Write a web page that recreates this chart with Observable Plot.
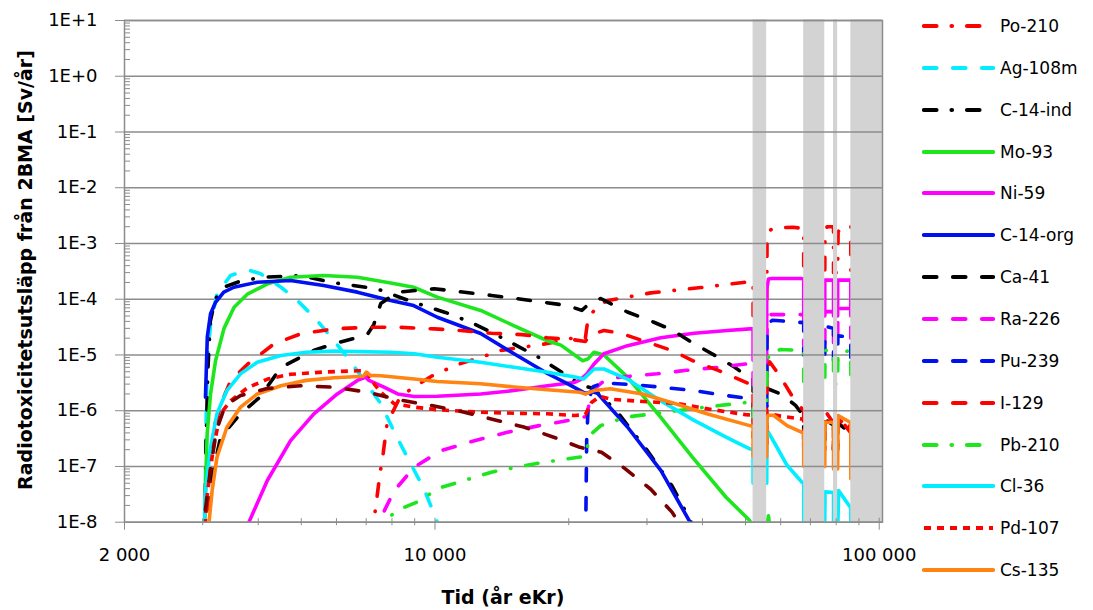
<!DOCTYPE html>
<html><head><meta charset="utf-8">
<script src="https://cdn.jsdelivr.net/npm/d3@7"></script>
<script src="https://cdn.jsdelivr.net/npm/@observablehq/plot@0.6"></script>
<style>
body{margin:0;background:#fff;font-family:"DejaVu Sans",sans-serif;}
#wrap{position:relative;width:1093px;height:610px;overflow:hidden;background:#fff;}
#chart{position:absolute;left:0;top:0;}
.ytitle{position:absolute;left:25px;top:270px;transform:translate(-50%,-50%) rotate(-90deg);white-space:nowrap;font-weight:bold;font-size:19px;color:#000;}
.xtitle{position:absolute;left:503px;top:597px;transform:translate(-50%,-50%);font-weight:bold;font-size:19px;white-space:nowrap;color:#000;}
.leg{position:absolute;left:922px;height:22px;display:flex;align-items:center;font-size:17px;color:#000;white-space:nowrap;}
.leg svg{margin-right:5px;}
</style></head><body>
<div id="wrap"><div id="chart"></div>
<div class="ytitle">Radiotoxicitetsutsläpp från 2BMA [Sv/år]</div>
<div class="xtitle">Tid (år eKr)</div>
</div>
<script>
// ---- data (x: år eKr, y: Sv/år) ----
const po210 = [[7250,5e-9],[7280,1e-8],[7520,7.5e-8],[7650,1.8e-7],[7800,5.9e-7],[8340,1.75e-6],[8950,2.64e-6],[9960,4.45e-6],[11410,7.0e-6],[12670,9.0e-6],[13990,1.2e-5],[15700,1.37e-5],[17900,1.6e-5],[20150,1.97e-5],[21800,2.0e-5],[22100,4.5e-5],[23200,7.5e-5],[24500,9.5e-5],[27100,1.09e-4],[30600,1.3e-4],[39700,1.62e-4],[49400,2.0e-4],[52000,2.1e-4],[52000,5e-5],[55800,5e-5],[55900,1.0e-3],[56600,1.7e-3],[58000,1.9e-3],[64000,1.95e-3],[67600,1.85e-3],[67600,3e-4],[75400,3e-4],[75500,1.5e-3],[76300,2.0e-3],[78900,2.0e-3],[78900,3e-4],[80600,3e-4],[80800,1.6e-3],[82000,2.0e-3],[86300,2.0e-3],[86300,3e-4]];
const ag108m = [[3035,5e-9],[3050,4e-7],[3070,6.9e-6],[3124,3.6e-5],[3230,1.25e-4],[3465,2.66e-4],[3790,3.37e-4],[4050,2.86e-4],[4500,1.64e-4],[4900,9.5e-5],[5430,4.15e-5],[5920,1.8e-5],[6350,9.1e-6],[7545,1.35e-6],[8070,4.4e-7],[8660,1.46e-7],[9440,4e-8],[10090,1.07e-8],[10400,5e-9]];
const c14ind = [[3030,5e-9],[3050,2e-7],[3080,5e-6],[3120,4e-5],[3200,1.0e-4],[3350,1.65e-4],[3700,2.2e-4],[4200,2.5e-4],[5000,2.66e-4],[5850,2.0e-4],[7400,1.54e-4],[8950,8.8e-5],[10550,5.8e-5],[12000,3.9e-5],[13400,2.56e-5],[15030,1.58e-5],[17100,9.1e-6],[18800,5.6e-6],[21300,2.9e-6],[22700,2.5e-6],[25600,1.0e-6],[30100,1.9e-7],[34200,4.4e-8],[38000,9e-9],[40000,4e-9]];
const mo93 = [[3030,5e-9],[3044,4.9e-8],[3070,3.8e-7],[3124,2.0e-6],[3206,7.9e-6],[3350,3.0e-5],[3530,7.2e-5],[3790,1.25e-4],[4200,1.89e-4],[4730,2.48e-4],[5610,2.66e-4],[6690,2.48e-4],[7950,1.95e-4],[8950,1.64e-4],[10120,1.09e-4],[12670,6.3e-5],[15030,3.37e-5],[17910,1.8e-5],[19200,1.5e-5],[21500,7.9e-6],[22100,8.5e-6],[22800,1.12e-5],[24000,1.0e-5],[27120,4.0e-6],[32230,7.6e-7],[38000,1.46e-7],[45200,2.8e-8],[51100,1.07e-8],[52000,8e-9],[55800,8e-9],[56300,1.3e-8],[57200,5e-9]];
const ni59 = [[3780,5e-9],[3811,1e-8],[4193,5.6e-8],[4730,2.9e-7],[5338,8.8e-7],[6026,2.0e-6],[6690,3.5e-6],[6980,4.0e-6],[7100,3.5e-6],[7674,2.64e-6],[8240,2.0e-6],[8980,1.8e-6],[10120,1.82e-6],[12670,2.0e-6],[15060,2.3e-6],[17910,2.8e-6],[20560,3.2e-6],[21250,3.6e-6],[21980,4.6e-6],[22800,6.9e-6],[24000,1.05e-5],[27120,1.47e-5],[32230,2.03e-5],[38300,2.45e-5],[45520,2.74e-5],[51100,2.94e-5],[52000,2.95e-5],[52000,8e-6],[55800,8e-6],[55800,1.5e-4],[56300,2.3e-4],[57200,2.35e-4],[66500,2.35e-4],[67600,2.3e-4],[67600,5e-5],[75400,5e-5],[75400,2.2e-4],[78900,2.2e-4],[78900,5e-5],[80600,5e-5],[80600,2.2e-4],[86300,2.2e-4],[86300,5e-5]];
const c14org = [[3043,1.75e-6],[3072,2.1e-5],[3124,5.5e-5],[3206,8.8e-5],[3346,1.34e-4],[3526,1.64e-4],[3980,2.02e-4],[4730,2.17e-4],[5614,1.76e-4],[6687,1.34e-4],[7946,9.5e-5],[8953,7.7e-5],[10123,4.75e-5],[12670,2.43e-5],[15030,1.06e-5],[17910,4.65e-6],[19860,3.07e-6],[21840,2.03e-6],[22500,2.2e-6],[23210,2.05e-6],[27120,5.1e-7],[32230,8.5e-8],[37650,9.5e-9],[40000,4e-9]];
const ca41 = [[3030,5e-9],[3060,1.5e-8],[3124,4.9e-8],[3290,3.3e-7],[3650,8.9e-7],[4030,1.73e-6],[4500,5.95e-6],[5330,1.2e-5],[5930,1.6e-5],[6600,2.0e-5],[7060,2.4e-5],[7280,3.5e-5],[7550,8.4e-5],[8240,1.34e-4],[9960,1.54e-4],[13400,1.17e-4],[15800,9.9e-5],[19860,7.7e-5],[21400,6.3e-5],[22300,8.5e-5],[23600,1.03e-4],[27100,5.9e-5],[31000,3.9e-5],[34200,2.8e-5],[38000,1.65e-5],[43400,9.1e-6],[47300,6.0e-6],[50300,4.2e-6],[52000,3.8e-6],[52000,1.2e-6],[55800,1.2e-6],[55900,2.5e-6],[60000,2.0e-6],[64800,1.25e-6],[67600,8e-7],[67600,3e-7],[75400,3e-7],[75500,7e-7],[78900,5.5e-7],[78900,2e-7],[80600,2e-7],[80700,6e-7],[86300,4e-7],[86300,1.5e-7]];
const ra226 = [[7500,5e-9],[7550,1.2e-8],[8100,3.7e-8],[8980,9.7e-8],[10280,1.9e-7],[12270,2.9e-7],[14550,4.1e-7],[17150,5.4e-7],[19950,6.7e-7],[21900,7.9e-7],[22600,2.3e-6],[24000,3.4e-6],[26000,4.0e-6],[31600,4.6e-6],[36800,5.3e-6],[43300,6.0e-6],[50300,6.9e-6],[52000,7.0e-6],[52000,2e-6],[55800,2e-6],[55900,4e-5],[56800,5.3e-5],[67600,5.3e-5],[67600,1.5e-5],[75400,1.5e-5],[75500,6e-5],[78900,6e-5],[78900,1.5e-5],[80600,1.5e-5],[80700,6.8e-5],[86300,6.8e-5],[86300,2e-5]];
const pu239 = [[21800,5e-9],[21850,1e-8],[21950,3e-7],[22150,1.5e-6],[22700,2.7e-6],[23600,3.04e-6],[25000,3.1e-6],[28500,2.9e-6],[32230,2.64e-6],[38300,2.3e-6],[45200,1.87e-6],[51000,1.65e-6],[52000,1.6e-6],[52000,5e-7],[55800,5e-7],[55900,2.5e-5],[56500,3.8e-5],[57500,4.2e-5],[67600,3.8e-5],[67600,1e-5],[75400,1e-5],[75500,2.8e-5],[76500,3.2e-5],[78900,3.0e-5],[78900,8e-6],[80600,8e-6],[80700,2.2e-5],[86300,2.1e-5],[86300,8e-6]];
const i129 = [[3050,5e-9],[3100,1e-7],[3200,6e-7],[3350,1.8e-6],[3470,3.5e-6],[3790,6.9e-6],[4340,1.58e-5],[4980,2.39e-5],[5920,2.94e-5],[7060,3.14e-5],[8240,3.14e-5],[9960,2.94e-5],[11410,2.74e-5],[13400,2.45e-5],[15700,2.32e-5],[17910,2.03e-5],[20560,1.87e-5],[21800,1.75e-5],[22300,2.3e-5],[24000,2.74e-5],[26000,2.5e-5],[29400,1.8e-5],[34200,1.2e-5],[38000,7.9e-6],[43400,5.3e-6],[51100,3.0e-6],[52000,2.9e-6],[52000,8e-7],[55800,8e-7],[55900,5e-6],[56700,7.5e-6],[60000,4.0e-6],[64000,1.7e-6],[67600,1.0e-6],[67600,3e-7],[75400,3e-7],[75500,1.0e-6],[78900,6e-7],[78900,2e-7],[80600,2e-7],[80700,8e-7],[86300,4e-7],[86300,1.5e-7]];
const pb210 = [[7600,5e-9],[7675,1e-8],[8200,1.62e-8],[9285,2.45e-8],[10120,4.0e-8],[13400,7.9e-8],[16700,1.11e-7],[19000,1.3e-7],[21500,1.5e-7],[21900,1.6e-7],[22200,3.5e-7],[23600,5.4e-7],[27000,7.7e-7],[31600,9.0e-7],[40300,1.15e-6],[50000,1.4e-6],[52000,1.45e-6],[52000,4e-7],[55800,4e-7],[55900,6e-6],[56500,1.1e-5],[60000,1.25e-5],[67600,1.2e-5],[67600,3e-6],[75400,3e-6],[75500,1.2e-5],[78900,1.2e-5],[78900,3e-6],[80600,3e-6],[80700,1.1e-5],[86300,1.2e-5],[86300,4e-6]];
const cl36 = [[3020,5e-9],[3040,3.3e-8],[3124,2.2e-7],[3230,8.8e-7],[3400,2.3e-6],[3650,4.6e-6],[3980,7.4e-6],[4500,9.75e-6],[5130,1.12e-5],[5930,1.17e-5],[7950,1.12e-5],[8980,1.05e-5],[10120,9.1e-6],[12670,7.4e-6],[15060,6.0e-6],[17910,4.9e-6],[20800,4.0e-6],[21600,3.7e-6],[22800,5.6e-6],[24000,5.6e-6],[27100,3.7e-6],[32230,1.5e-6],[38300,6.7e-7],[45200,3.35e-7],[51100,2.07e-7],[52000,2.0e-7],[52000,5e-8],[55800,5e-8],[55900,3.5e-7],[56300,4.1e-7],[58500,2.4e-7],[62000,1.05e-7],[67000,5.2e-8],[67600,5e-8],[67600,1e-8],[75400,1e-8],[75500,3.5e-8],[78900,3.4e-8],[78900,5e-9],[80600,5e-9],[81000,3.7e-8],[86300,1.8e-8],[86300,5e-9]];
const pd107 = [[3030,5e-9],[3060,2.5e-8],[3170,2.2e-7],[3290,8.8e-7],[3470,1.52e-6],[3790,2.6e-6],[4200,3.7e-6],[4730,4.5e-6],[5620,4.95e-6],[6690,5.2e-6],[6980,5.2e-6],[7300,3.0e-6],[7550,2.15e-6],[8100,1.33e-6],[8980,1.16e-6],[10120,1.04e-6],[12670,9.4e-7],[15060,9.0e-7],[17910,8.8e-7],[20560,8.2e-7],[21800,8.5e-7],[22500,1.4e-6],[23500,1.8e-6],[25000,1.6e-6],[30000,1.45e-6],[35000,1.35e-6],[42000,1.05e-6],[50000,8.5e-7],[52000,8.3e-7],[52000,2.5e-7],[55800,2.5e-7],[55900,9e-7],[60000,8e-7],[67600,7e-7],[67600,2e-7],[75400,2e-7],[75500,7e-7],[78900,6.5e-7],[78900,2e-7],[80600,2e-7],[80700,7e-7],[86300,5e-7],[86300,1.5e-7]];
const cs135 = [[3080,5e-9],[3100,1e-8],[3150,3.7e-8],[3230,1.46e-7],[3400,5.05e-7],[3650,1.16e-6],[3980,2.0e-6],[4500,2.8e-6],[5130,3.5e-6],[5930,3.9e-6],[6900,4.15e-6],[7000,4.9e-6],[7150,4.3e-6],[7550,4.25e-6],[8980,3.7e-6],[10120,3.35e-6],[12670,3.05e-6],[15060,2.66e-6],[17910,2.37e-6],[21200,2.15e-6],[21840,2.0e-6],[22800,2.3e-6],[24800,2.47e-6],[29300,2.0e-6],[34800,1.33e-6],[40900,8.8e-7],[51100,5.4e-7],[52000,5.2e-7],[52000,1.5e-7],[55800,1.5e-7],[55900,7.5e-7],[56300,8.3e-7],[57800,8.3e-7],[62000,5.4e-7],[67000,4.1e-7],[67600,4.0e-7],[67600,1.0e-7],[75400,1.0e-7],[75500,6.2e-7],[78900,6.2e-7],[78900,9e-8],[80600,9e-8],[80800,8.2e-7],[86000,6.2e-7],[86300,6e-7],[86300,6e-8]];
const other = [[3030,5e-9],[3040,1.6e-8],[3120,8.4e-8],[3220,4.4e-7],[3370,1.24e-6],[3650,1.87e-6],[4190,2.5e-6],[4980,2.8e-6],[5900,2.64e-6],[7060,2.15e-6],[8100,1.63e-6],[9800,1.24e-6],[11640,9.4e-7],[13800,6.7e-7],[15840,5.1e-7],[18500,3.35e-7],[21200,2.2e-7],[23700,1.8e-7],[26600,9.5e-8],[30600,3.9e-8],[34200,1.5e-8],[35300,1e-8],[36500,5e-9]];

const names  = ["Po-210","Ag-108m","C-14-ind","Mo-93","Ni-59","C-14-org","Ca-41","Ra-226","Pu-239","I-129","Pb-210","Cl-36","Pd-107","Cs-135"];
const colors = ["#ff0000","#00eeff","#000000","#1ee61e","#ff00ff","#0010f0","#000000","#ff00ff","#0010f0","#ff0000","#1ee61e","#00eeff","#ff0000","#ff8412"];
const styles = ["dashdot","dash","dashdot","solid","solid","solid","dash","dash","dash","dash","dashdot","solid","dot","solid"];
const values = [po210, ag108m, c14ind, mo93, ni59, c14org, ca41, ra226, pu239, i129, pb210, cl36, pd107, cs135];

const bands = [[52000,55800],[67600,75400],[78900,80600],[86300,101700]];
const yTicks = [1e-8,1e-7,1e-6,1e-5,1e-4,1e-3,1e-2,1e-1,1,10];
const xTicks = [2000,10000,100000];
const xMinor = [3000,4000,5000,6000,7000,8000,9000,20000,30000,40000,50000,60000,70000,80000,90000];
const yMinor = yTicks.slice(0,-1).flatMap(d => [2,3,4,5,6,7,8,9].map(k => k*d));

const DASH = {solid: null, dash: "12.5,16.5", dashdot: "12.5,15,0.5,15", dot: "7,6"};
const CAP = {solid: "round", dash: "round", dashdot: "round", dot: "butt"};
const GRID = "#8c8c8c";

const fmtY = d => { const e = Math.round(Math.log10(d)); return "1E" + (e >= 0 ? "+" : "-") + Math.abs(e); };
const fmtX = d => d3.format(",")(d).replace(/,/g, " ");

const lineMarks = values.map((v, i) => Plot.line(v, {
  x: d => d[0], y: d => d[1], stroke: colors[i], strokeWidth: 3.6,
  strokeDasharray: DASH[styles[i]], strokeLinecap: CAP[styles[i]], strokeLinejoin: "round", clip: true
}));
lineMarks.push(Plot.line(other, {x: d => d[0], y: d => d[1], stroke: "#7a0000", strokeWidth: 3.6, strokeDasharray: DASH.dash, strokeLinecap: "round", clip: true}));

const bandGrid = bands.flatMap(b => yTicks.map(y => ({y, x1: b[0], x2: b[1]})));

const chart = Plot.plot({
  width: 1093, height: 610,
  marginLeft: 124, marginRight: 211, marginTop: 20, marginBottom: 88.3,
  style: {fontFamily: "DejaVu Sans, sans-serif", fontSize: "18px", background: "white", color: "black"},
  x: {type: "log", domain: [2000, 101700], label: null},
  y: {type: "log", domain: [1e-8, 10], label: null},
  marks: [
    Plot.ruleY(yTicks, {stroke: GRID, strokeWidth: 1.5}),
    ...lineMarks,
    Plot.rect(bands, {x1: d => d[0], x2: d => d[1], y1: 1e-8, y2: 10, fill: "#d3d3d3"}),
    Plot.ruleY(bandGrid, {y: "y", x1: "x1", x2: "x2", stroke: GRID, strokeWidth: 1.5}),
    Plot.frame({stroke: GRID, strokeWidth: 1.5}),
    Plot.axisY(yTicks, {anchor: "left", tickSize: 9, tickPadding: 18, tickFormat: fmtY, stroke: GRID, fill: "black", label: null, fontSize: 18}),
    Plot.axisY(yMinor, {anchor: "left", tickSize: 6, dx: 6, tickFormat: () => "", stroke: GRID, label: null}),
    Plot.axisX(xTicks, {anchor: "bottom", tickSize: 12, dy: -4, tickPadding: 18, tickFormat: fmtX, stroke: GRID, fill: "black", label: null, fontSize: 18}),
    Plot.axisX(xMinor, {anchor: "bottom", tickSize: 7, dy: -3.5, tickFormat: () => "", stroke: GRID, label: null})
  ]
});
document.getElementById("chart").appendChild(chart);

// legend
const wrap = document.getElementById("wrap");
names.forEach((n, i) => {
  const yc = 26 + i * 41.85;
  const div = document.createElement("div");
  div.className = "leg";
  div.style.top = (yc - 11) + "px";
  const dash = DASH[styles[i]];
  div.innerHTML = `<svg width="73" height="22"><line x1="2" x2="71" y1="11" y2="11" stroke="${colors[i]}" stroke-width="4.2" ${dash ? `stroke-dasharray="${dash}"` : ""} stroke-linecap="${CAP[styles[i]]}"/></svg><span>${n}</span>`;
  wrap.appendChild(div);
});
</script>
</body></html>
